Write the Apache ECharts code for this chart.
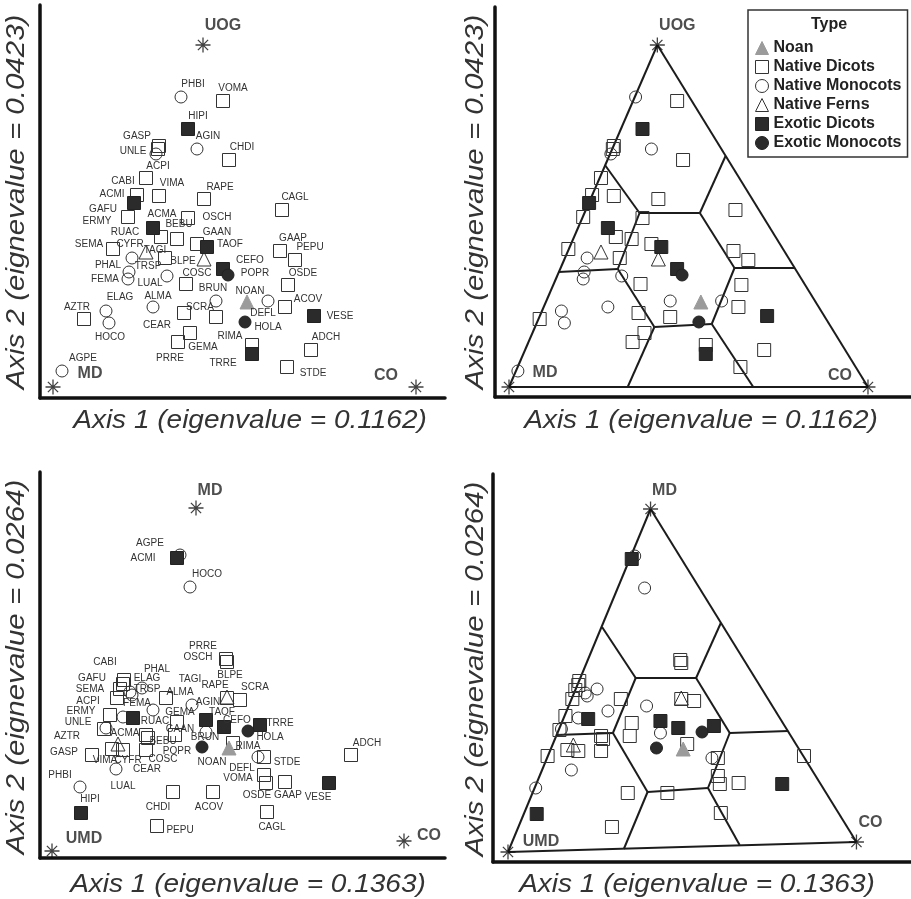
<!DOCTYPE html>
<html><head><meta charset="utf-8">
<script src="https://cdn.jsdelivr.net/npm/echarts@6/dist/echarts.min.js"></script>
<style>html,body{margin:0;padding:0;background:#fff}#c{width:911px;height:899px}</style>
</head><body><div id="c"></div>
<script>
// ---------------- DATA ----------------
const species = ['PHBI','VOMA','HIPI','AGIN','GASP','UNLE','ACPI','CHDI','CABI','VIMA',
  'RAPE','ACMI','CAGL','GAFU','ERMY','ACMA','OSCH','BEBU','RUAC','GAAN',
  'TAOF','SEMA','CYFR','TAGI','BLPE','CEFO','POPR','PHAL','TRSP','FEMA',
  'LUAL','COSC','GAAP','PEPU','OSDE','BRUN','NOAN','DEFL','ACOV','VESE',
  'HOLA','ELAG','AZTR','HOCO','ALMA','CEAR','SCRA','GEMA','PRRE','RIMA',
  'TRRE','ADCH','STDE','AGPE'];
const typeNames = ['Noan','Native Dicots','Native Monocots','Native Ferns','Exotic Dicots','Exotic Monocots'];
const speciesType = [2,1,4,2,1,2,1,1,1,1, 1,4,1,1,1,4,1,1,1,1, 4,1,3,1,3,4,5,2,2,2,
  2,1,1,1,1,2,0,2,1,4, 5,2,1,2,2,1,1,1,1,1, 4,1,1,2];

// Ordination 1 (UOG / MD / CO) scores, plot units
const ord1X = [128,170,135,144,106,103,105,176,93,106, 151,81,229,84,75,100,135,124,108,144,
  154,60,93,112,151,170,175,79,76,75, 114,133,227,242,235,163,194,215,232,261,
  192,53,31,56,100,131,163,137,125,199, 199,258,234,9];
const ord1Y = [290,286,258,238,241,233,238,227,209,191, 188,184,177,192,170,159,169,148,150,143,
  140,138,135,129,128,118,112,129,115,108, 111,103,136,127,102,86,85,86,80,71,
  65,76,68,64,80,74,70,54,45,42, 33,37,20,16];
const ord1Vertices = ['UOG','MD','CO'];
const ord1VertexX = [150,0,363];
const ord1VertexY = [342,0,0];
const ord1Boundaries = [
  [[97,222],[132,174]],[[132,174],[193,174]],[[193,174],[219,231]],[[193,174],[228,119]],
  [[228,119],[289,119]],[[228,119],[205,63]],[[205,63],[247,0]],[[205,63],[147,60]],
  [[147,60],[120,0]],[[147,60],[110,118]],[[110,118],[50,115]],[[110,118],[132,174]]];

// Ordination 2 (MD / UMD / CO) scores, plot units
const ord2X = [28,212,29,140,40,54,65,121,72,60, 175,125,215,71,58,81,175,96,94,123,
  154,68,66,114,175,172,150,90,80,71, 64,94,233,105,214,154,177,206,161,277,
  196,78,52,138,101,71,188,125,174,181, 208,299,212,128];
const ord2Y = [64,76,38,146,96,123,153,59,171,102, 153,293,39,167,136,133,189,113,116,116,
  131,162,107,153,154,124,104,163,156,134, 82,101,69,25,68,119,103,94,59,68,
  120,159,122,264,141,101,151,129,192,108, 126,96,94,296];
const ord2Vertices = ['MD','UMD','CO'];
const ord2VertexX = [144,0,352];
const ord2VertexY = [343,0,10];
const ord2Boundaries = [
  [[95,225],[129,174]],[[129,174],[190,174]],[[190,174],[215,229]],[[190,174],[224,119]],
  [[224,119],[283,121]],[[224,119],[202,64]],[[202,64],[234,7]],[[202,64],[141,60]],
  [[141,60],[117,3]],[[141,60],[106,119]],[[106,119],[49,117]],[[106,119],[129,174]]];

const axis1Titles = ['Axis 1 (eigenvalue = 0.1162)','Axis 1 (eigenvalue = 0.1363)'];
const axis2Titles = ['Axis 2 (eignevalue = 0.0423)','Axis 2 (eignevalue = 0.0264)'];

// ---------------- LABEL PLACEMENT (style, pixel offsets) ----------------
const labelOffsetOrd1 = [[12,-13],[10,-13],[10,-13],[11,-13],[-22,-10],[-23,-3],[0,17],[13,-13],[-23,3],[13,-13],
 [16,-12],[-22,-9],[13,-13],[-34,14],[-31,4],[9,-14],[29,-1],[2,-15],[-36,-5],[20,-12],
 [23,-3],[-24,-5],[-16,-8],[-10,-8],[-21,2],[27,-9],[27,-2],[-24,7],[19,-6],[-23,0],
 [-17,7],[11,-11],[13,-13],[15,-13],[15,-12],[-3,-13],[3,-11],[-5,12],[23,-8],[26,0],
 [23,5],[14,-14],[-7,-12],[1,14],[5,-11],[-27,12],[-16,-10],[13,14],[-8,16],[-22,-9],
 [-29,9],[15,-13],[26,6],[21,-13]];
const labelOffsetOrd2 = [[-20,-12],[-26,3],[9,-14],[16,-3],[-28,-3],[-28,-6],[-29,3],[-15,15],[-19,-18],[-7,11],
 [-12,-13],[-34,0],[5,15],[-31,-6],[-29,-4],[-8,15],[-29,-5],[15,3],[9,-14],[5,-6],
 [16,-8],[-30,0],[10,16],[24,-19],[3,-22],[13,-7],[-25,4],[15,-19],[15,-6],[14,-14],
 [7,17],[17,9],[3,13],[23,4],[-9,12],[-1,5],[-17,14],[-16,11],[-4,15],[-11,14],
 [22,6],[17,-14],[-37,7],[17,-13],[27,-18],[24,19],[15,-13],[3,-10],[-23,-13],[15,3],
 [20,-2],[16,-12],[23,5],[-30,-12]];

// ---------------- CHART ----------------
const FONT = '"Liberation Sans", Arial, sans-serif';
const STAR = 'path://M5 0L5 10M0 5L10 5M1.6 1.6L8.4 8.4M8.4 1.6L1.6 8.4';
const typeSymbol = ['triangle','rect','circle','triangle','rect','circle'];
const typeSize = [14,13,12,14,13,12];
const typeFill = ['#9b9b9b','rgba(0,0,0,0)','rgba(0,0,0,0)','rgba(0,0,0,0)','#2b2b2b','#2b2b2b'];
const typeStroke = ['#9b9b9b','#333','#333','#333','#222','#222'];
const drawOrder = [1,2,3,0,4,5];

const panels = [
  {grid:{left:40,top:5,width:405,height:393}, xr:[-13,392], yr:[-11,382], X:ord1X, Y:ord1Y, off:labelOffsetOrd1, labels:true,
   vN:ord1Vertices, vX:ord1VertexX, vY:ord1VertexY, vOff:[[20,-19],[37,-13],[-30,-11]], bounds:null},
  {grid:{left:495,top:7,width:416,height:390}, xr:[-14.16,406.5], yr:[-10,380], X:ord1X, Y:ord1Y, off:null, labels:false,
   vN:ord1Vertices, vX:ord1VertexX, vY:ord1VertexY, vOff:[[20,-19],[36,-14],[-28,-11]], bounds:ord1Boundaries},
  {grid:{left:40,top:472,width:405,height:386}, xr:[-12,393], yr:[-7,379], X:ord2X, Y:ord2Y, off:labelOffsetOrd2, labels:true,
   vN:ord2Vertices, vX:ord2VertexX, vY:ord2VertexY, vOff:[[14,-17],[32,-12],[25,-5]], bounds:null},
  {grid:{left:493,top:474,width:418,height:388}, xr:[-15.15,407.1], yr:[-10,378], X:ord2X, Y:ord2Y, off:null, labels:false,
   vN:ord2Vertices, vX:ord2VertexX, vY:ord2VertexY, vOff:[[14,-18],[33,-10],[14,-19]], bounds:ord2Boundaries}
];

const grids = [], xAxes = [], yAxes = [], series = [];
const axisLineStyle = {color:'#111', width:3.5};
panels.forEach((p, i) => {
  grids.push(Object.assign({containLabel:false, outerBoundsMode:'none'}, p.grid));
  xAxes.push({gridIndex:i, type:'value', min:p.xr[0], max:p.xr[1], axisLine:{show:true, onZero:false, lineStyle:axisLineStyle},
    axisTick:{show:false}, axisLabel:{show:false}, splitLine:{show:false}});
  yAxes.push({gridIndex:i, type:'value', min:p.yr[0], max:p.yr[1], axisLine:{show:true, onZero:false, lineStyle:axisLineStyle},
    axisTick:{show:false}, axisLabel:{show:false}, splitLine:{show:false}});
  if (p.bounds) {
    const tri = [[p.vX[0],p.vY[0]],[p.vX[1],p.vY[1]],[p.vX[2],p.vY[2]]];
    const segs = [[tri[0],tri[1]],[tri[1],tri[2]],[tri[2],tri[0]]].concat(p.bounds);
    series.push({type:'lines', name:'boundaries', coordinateSystem:'cartesian2d', xAxisIndex:i, yAxisIndex:i,
      silent:true, z:1, data: segs.map(s => ({coords:s})),
      lineStyle:{color:'#1c1c1c', width:2, opacity:1, curveness:0}});
  }
  drawOrder.forEach(t => {
    const data = [];
    species.forEach((sp, k) => {
      if (speciesType[k] !== t) return;
      const item = {name:sp, value:[p.X[k], p.Y[k]]};
      if (p.labels) item.label = {offset:p.off[k]};
      data.push(item);
    });
    series.push({type:'scatter', name:typeNames[t], xAxisIndex:i, yAxisIndex:i, silent:true, z:3,
      symbol:typeSymbol[t], symbolSize:typeSize[t],
      itemStyle:{color:typeFill[t], borderColor:typeStroke[t], borderWidth:1, opacity:1},
      label:{show:p.labels, position:'inside', formatter:'{b}', color:'#333', fontSize:10, fontFamily:FONT,
        textBorderWidth:0},
      emphasis:{disabled:true}, data});
  });
  series.push({type:'scatter', name:'vertices', xAxisIndex:i, yAxisIndex:i, silent:true, z:4,
    symbol:STAR, symbolSize:15, itemStyle:{color:'rgba(0,0,0,0)', borderColor:'#111', borderWidth:1.3},
    label:{show:true, position:'inside', formatter:'{b}', color:'#222', fontSize:16, fontWeight:'bold', fontFamily:FONT, textBorderWidth:0},
    emphasis:{disabled:true},
    data: p.vN.map((n, k) => ({name:n, value:[p.vX[k], p.vY[k]], label:{offset:p.vOff[k]}}))});
});

const titleStyle = (txt) => ({text:txt, font:'italic 25px "Liberation Sans", Arial, sans-serif', fill:'#333', textAlign:'center', textVerticalAlign:'middle'});
const graphic = [
  {type:'text', x:250, y:421, scaleX:1.12, style:titleStyle(axis1Titles[0])},
  {type:'text', x:701, y:421, scaleX:1.12, style:titleStyle(axis1Titles[0])},
  {type:'text', x:248, y:885, scaleX:1.12, style:titleStyle(axis1Titles[1])},
  {type:'text', x:697, y:885, scaleX:1.12, style:titleStyle(axis1Titles[1])},
  {type:'text', x:17, y:202, rotation:Math.PI/2, scaleX:1.18, style:titleStyle(axis2Titles[0])},
  {type:'text', x:476, y:202, rotation:Math.PI/2, scaleX:1.18, style:titleStyle(axis2Titles[0])},
  {type:'text', x:17, y:667, rotation:Math.PI/2, scaleX:1.18, style:titleStyle(axis2Titles[1])},
  {type:'text', x:476, y:669, rotation:Math.PI/2, scaleX:1.18, style:titleStyle(axis2Titles[1])},
  {type:'text', x:829, y:25, z:100, style:{text:'Type', font:'bold 16px "Liberation Sans", Arial, sans-serif', fill:'#222', textAlign:'center', textVerticalAlign:'middle'}}
];

const chart = echarts.init(document.getElementById('c'), null, {renderer:'canvas'});
chart.setOption({
  animation:false,
  backgroundColor:'#fff',
  grid:grids, xAxis:xAxes, yAxis:yAxes, series,
  legend:{data:typeNames, orient:'vertical', left:748, top:10, padding:[30,6,6,7], itemGap:3,
    itemWidth:13, itemHeight:13, borderColor:'#333', borderWidth:1.5, backgroundColor:'#fff',
    selectedMode:false, itemStyle:{borderWidth:1},
    textStyle:{fontFamily:FONT, fontWeight:'bold', fontSize:16, color:'#222', lineHeight:16}},
  graphic
});
</script></body></html>
